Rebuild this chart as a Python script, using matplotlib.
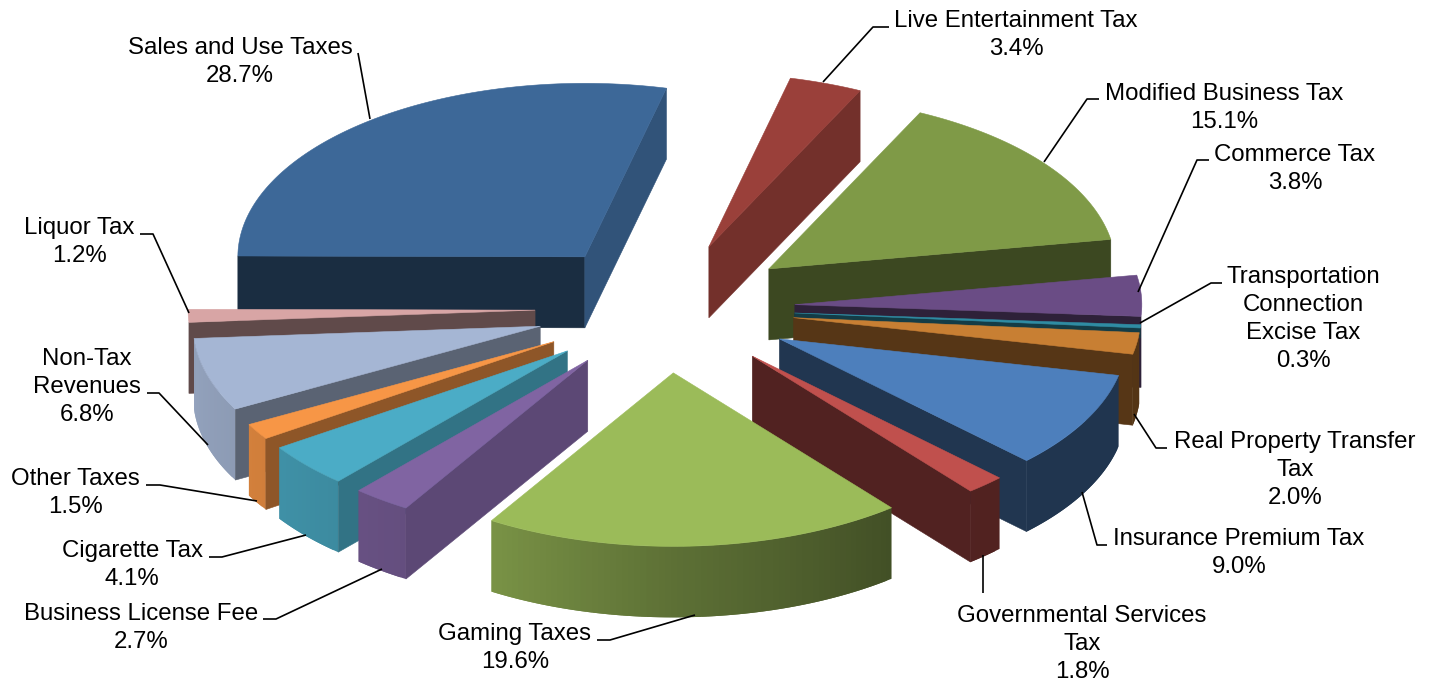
#!/usr/bin/env python

import numpy as np
import matplotlib
matplotlib.use('Agg')
import matplotlib.pyplot as plt
from matplotlib.colors import to_rgb

plt.rcParams['font.family'] = ['Liberation Sans', 'DejaVu Sans']

# clockwise from the top of the pie
categories = ['Live Entertainment Tax', 'Modified Business Tax', 'Commerce Tax',
              'Transportation\nConnection\nExcise Tax', 'Real Property Transfer\nTax',
              'Insurance Premium Tax', 'Governmental Services\nTax', 'Gaming Taxes',
              'Business License Fee', 'Cigarette Tax', 'Other Taxes', 'Non-Tax\nRevenues',
              'Liquor Tax', 'Sales and Use Taxes']
shares = [3.4, 15.1, 3.8, 0.3, 2.0, 9.0, 1.8, 19.6, 2.7, 4.1, 1.5, 6.8, 1.2, 28.7]

top_colors = ['#9a403a', '#7f9a47', '#6a4c85', '#2f8ca3', '#c87f33', '#4d7fbc', '#c0504d',
              '#9bbb59', '#8064a2', '#4bacc6', '#f79646', '#a5b6d4', '#d8a5a5', '#3d6898']

label_pos = [(1016, 35), (1224, 108), (1295, 169), (1303, 319), (1295, 470), (1239, 553),
             (1082, 644), (515, 648), (141.5, 628), (132, 565), (75, 493), (87, 387),
             (79, 242), (240, 62)]
leaders = [[(889, 27), (873, 27), (823, 82)],
           [(1099, 99), (1087, 99), (1044, 162)],
           [(1209, 160), (1197, 160), (1138, 292)],
           [(1222, 283), (1211, 283), (1140, 323)],
           [(1167, 448), (1156, 448), (1134, 414)],
           [(1107, 545), (1097, 545), (1082, 492)],
           [(983, 593), (983, 555)],
           [(597, 640), (610, 640), (695, 615)],
           [(263, 619), (276, 619), (382, 569)],
           [(209, 557), (222, 557), (306, 535)],
           [(146, 485), (160, 485), (257, 501)],
           [(147, 393), (159, 393), (208, 445)],
           [(140, 234), (153, 234), (189, 313)],
           [(358, 53), (370, 119)]]

# pie geometry, axes units are pixels with y pointing down
cx, cy = 665, 308
radius = 347
squash = 0.5
depth = 71
explode = 130
first_angle = 76.4


def shade(color, f):
    return tuple(np.array(to_rgb(color)) * f)


def wall_light(a):
    return np.interp(a, [-180, -150, -121, -90, -50, 0],
                     [0.9, 0.85, 0.78, 0.6, 0.42, 0.42])


def face_light(n):
    n = (n + 180) % 360 - 180
    return np.interp(n, [-180, -90, -60, -40, -25, -13, 0],
                     [0.42, 0.43, 0.55, 0.68, 0.75, 0.8, 0.82])


def poly(xs, ys, color, z, lw=0.4):
    ax.fill(xs, ys, facecolor=color, edgecolor=color if lw else 'none', lw=lw, zorder=z)


fig = plt.figure(figsize=(14.32, 6.81), dpi=100)
ax = fig.add_axes([0, 0, 1, 1])
ax.set_xlim(0, 1432)
ax.set_ylim(681, 0)
ax.axis('off')

edges = first_angle - np.cumsum([0] + shares) * 3.6
mids = (edges[:-1] + edges[1:]) / 2

# back slices first so the front ones paint over them
order = np.argsort(-np.sin(np.radians(mids)))
z = 1
for i in order:
    a0, a1, mid, col = edges[i], edges[i + 1], mids[i], top_colors[i]
    ax_ = cx + explode * np.cos(np.radians(mid))
    ay_ = cy - explode * squash * np.sin(np.radians(mid))

    ang = np.linspace(a0, a1, max(int((a0 - a1) / 1.0), 2) + 1)
    ex = ax_ + radius * np.cos(np.radians(ang))
    ey = ay_ - radius * squash * np.sin(np.radians(ang))

    # outer wall, only the part facing the viewer; each strip runs under the next to hide seams
    # slivers of wall under 5 degrees are left out
    front = np.sin(np.radians(ang)) < 0
    if front.sum() > 5:
        for k in range(len(ang) - 1):
            m = (ang[k] + ang[k + 1]) / 2
            if np.sin(np.radians(m)) < 0:
                m = (m + 180) % 360 - 180
                sx = ex[k:k + 3]
                sy = ey[k:k + 3]
                poly(np.r_[sx, sx[::-1]], np.r_[sy, sy[::-1] + depth],
                     shade(col, wall_light(m)), z, lw=0)
                z += 0.001
        z = np.ceil(z)

    # cut faces, the very thin slice only needs a short one
    d = depth if shares[i] >= 1 else 10
    if np.cos(np.radians(a0)) < 0:
        poly([ax_, ex[0], ex[0], ax_], [ay_, ey[0], ey[0] + d, ay_ + d],
             shade(col, face_light(a0 + 90)), z)
    if np.cos(np.radians(a1)) > 0:
        poly([ax_, ex[-1], ex[-1], ax_], [ay_, ey[-1], ey[-1] + d, ay_ + d],
             shade(col, face_light(a1 - 90)), z)
    z += 1

    # top face
    poly(np.r_[ax_, ex], np.r_[ay_, ey], col, z)
    z += 1

for line in leaders:
    xs, ys = zip(*line)
    ax.plot(xs, ys, color='black', lw=1.2, solid_capstyle='butt', zorder=z)

for name, val, (x, y) in zip(categories, shares, label_pos):
    ax.text(x, y, '{}\n{:.1f}%'.format(name, val), ha='center', va='center',
            fontsize=17.3, linespacing=1.37, color='black', zorder=z + 1)

fig.savefig('out.png', dpi=100, facecolor='white')
